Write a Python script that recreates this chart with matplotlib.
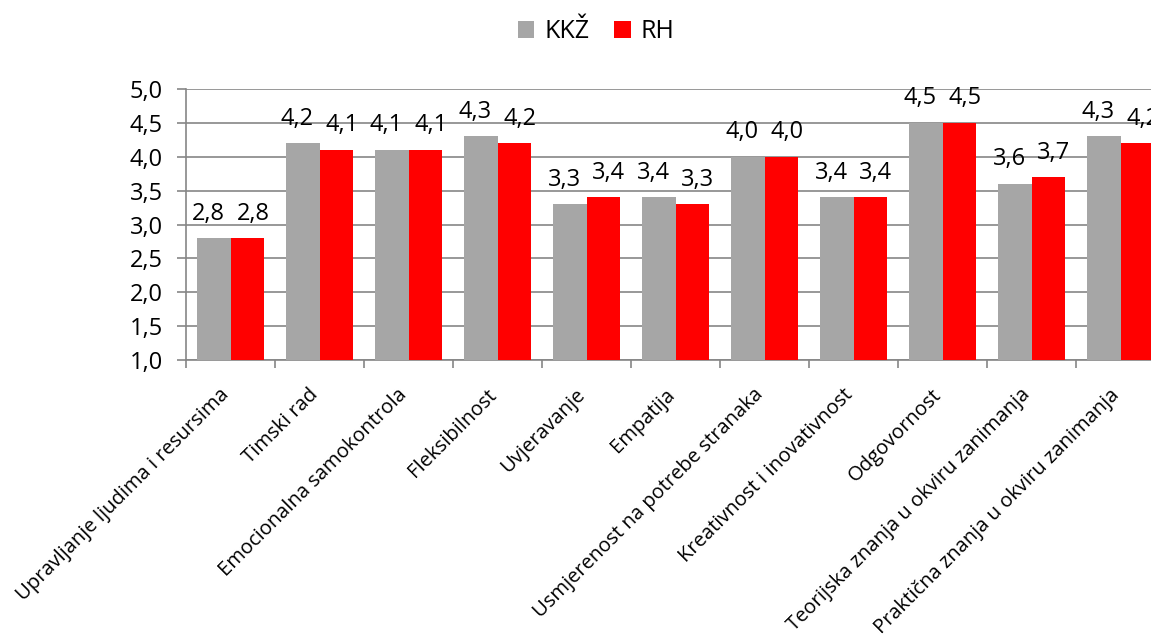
import matplotlib

matplotlib.use("Agg")
import matplotlib.pyplot as plt
import matplotlib.transforms as mtransforms
import numpy as np

categories = [
    "Upravljanje ljudima i resursima",
    "Timski rad",
    "Emocionalna samokontrola",
    "Fleksibilnost",
    "Uvjeravanje",
    "Empatija",
    "Usmjerenost na potrebe stranaka",
    "Kreativnost i inovativnost",
    "Odgovornost",
    "Teorijska znanja u okviru zanimanja",
    "Praktična znanja u okviru zanimanja",
]
kkz = [2.8, 4.2, 4.1, 4.3, 3.3, 3.4, 4.0, 3.4, 4.5, 3.6, 4.3]
rh = [2.8, 4.1, 4.1, 4.2, 3.4, 3.3, 4.0, 3.4, 4.5, 3.7, 4.2]
yticks = [1.0, 1.5, 2.0, 2.5, 3.0, 3.5, 4.0, 4.5, 5.0]

GREY = "#a6a6a6"
RED = "#ff0000"
AXIS = "#868686"
FONT = ["Open Sans", "DejaVu Sans"]

plt.rcParams["font.family"] = FONT

fig = plt.figure(figsize=(11.51, 6.39), dpi=100)
# plot area runs past the right edge, as in the reference
ax = fig.add_axes([0.1616, 0.4366, 0.8506, 0.4241])

x = np.arange(len(categories))
w = 0.38
b1 = ax.bar(x - w / 2, np.array(kkz) - 1.0, w, bottom=1.0, color=GREY, label="KKŽ", zorder=3)
b2 = ax.bar(x + w / 2, np.array(rh) - 1.0, w, bottom=1.0, color=RED, label="RH", zorder=3)

# labels nudged apart a little, like the spreadsheet does
for bars, vals, dx in ((b1, kkz, -4), (b2, rh, 4)):
    for rect, v in zip(bars, vals):
        ax.annotate(f"{v:.1f}".replace(".", ","),
                    (rect.get_x() + rect.get_width() / 2, v),
                    xytext=(dx, 9), textcoords="offset points",
                    ha="center", va="bottom", fontsize=17, color="black")

ax.set_xlim(-0.5, len(categories) - 0.5)
ax.set_ylim(1.0, 5.0)
ax.set_yticks(yticks)
ax.set_yticklabels([f"{t:.1f}".replace(".", ",") for t in yticks], fontsize=17)
ax.yaxis.grid(True, color=AXIS, lw=1.2, zorder=0)
ax.set_axisbelow(True)

# boundary ticks only; category names drawn as rotated texts below
ax.set_xticks(np.arange(len(categories) + 1) - 0.5)
ax.set_xticklabels([])
ax.tick_params(axis="x", length=6, color=AXIS, width=1.2)
ax.tick_params(axis="y", length=6.5, color=AXIS, width=1.2, pad=10)

lab_tr = ax.get_xaxis_transform() + mtransforms.ScaledTranslation(
    -0.04, -0.32, fig.dpi_scale_trans)
for xi, cat in zip(x, categories):
    ax.text(xi, 0, cat, transform=lab_tr, rotation=45, rotation_mode="anchor",
            ha="right", va="center", fontsize=14.5, clip_on=False)

for s in ("top", "right"):
    ax.spines[s].set_visible(False)
for s in ("left", "bottom"):
    ax.spines[s].set_color(AXIS)
    ax.spines[s].set_linewidth(1.2)

fig.legend(handles=[b1, b2], labels=["KKŽ", "RH"], loc="center",
           bbox_to_anchor=(0.518, 0.95), ncol=2, frameon=False, fontsize=18,
           handlelength=0.65, handleheight=0.65, handletextpad=0.4, columnspacing=1.0)

fig.savefig("out.png", dpi=100)
